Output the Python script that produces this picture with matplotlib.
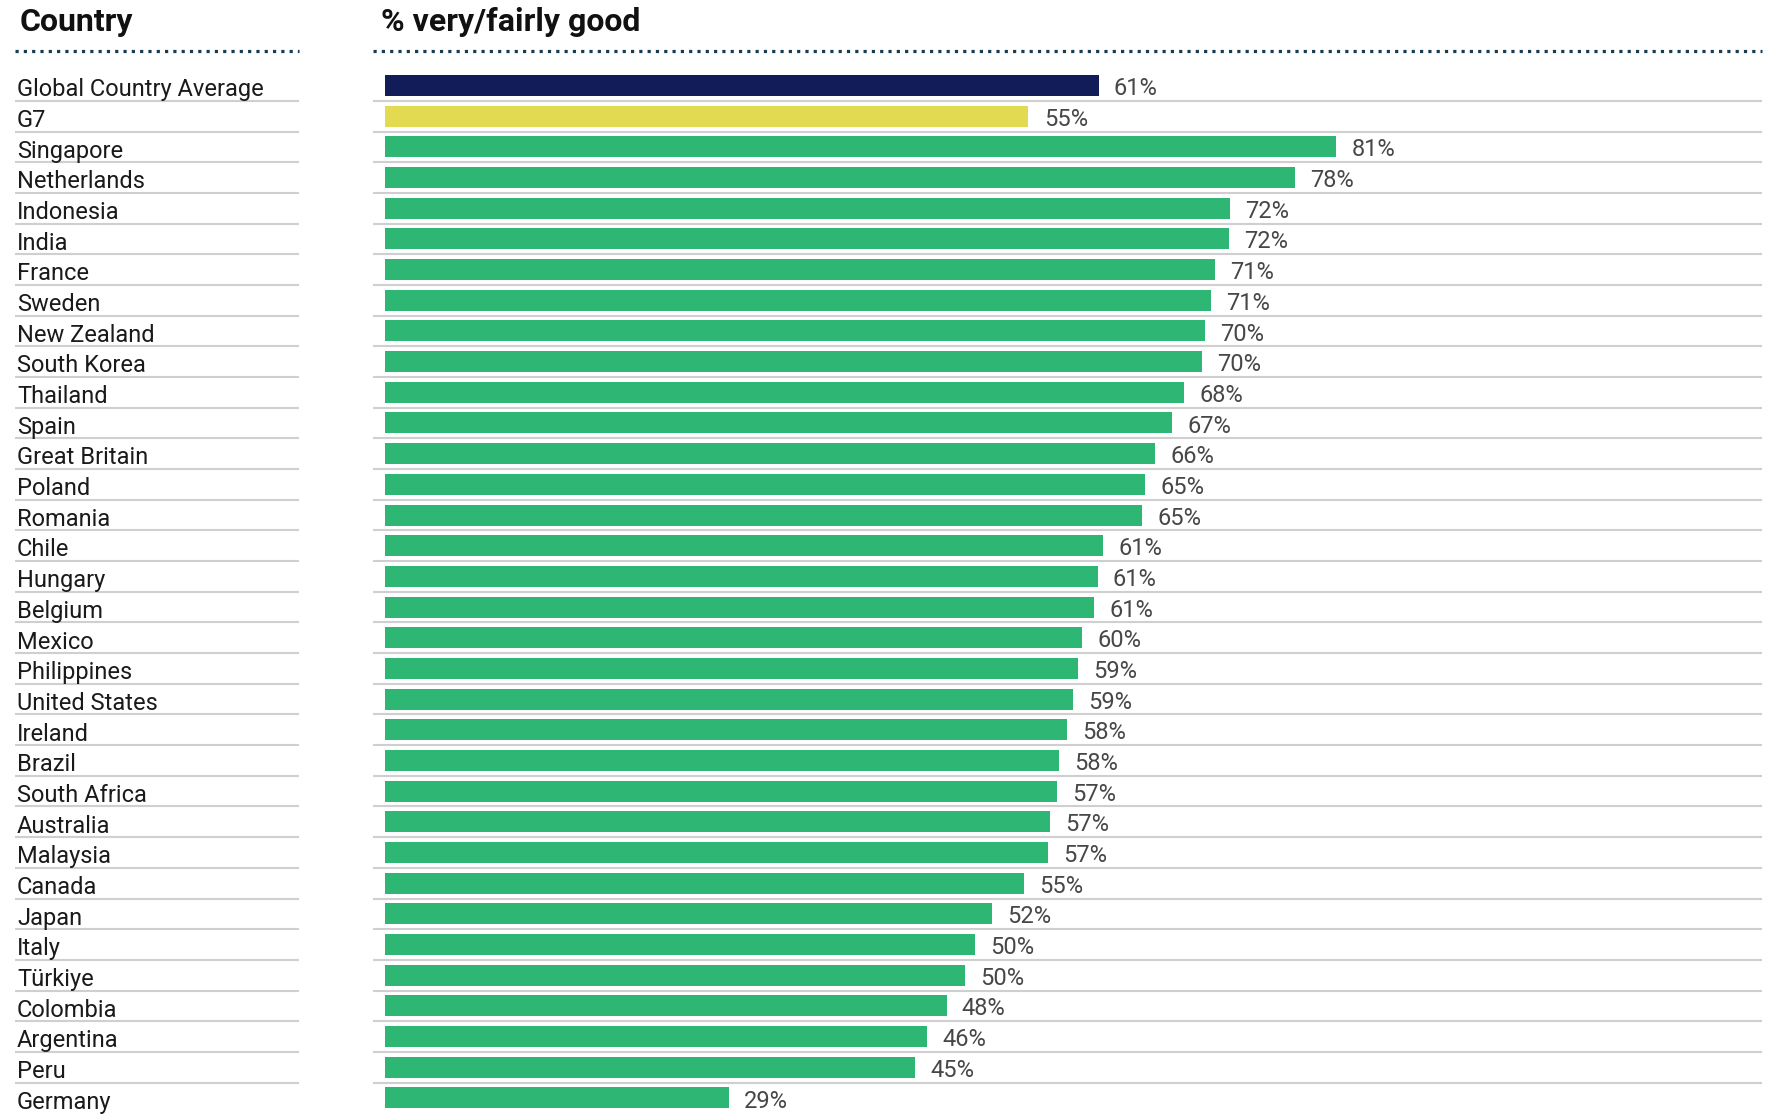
import matplotlib
matplotlib.use("Agg")
import matplotlib.pyplot as plt
from matplotlib.lines import Line2D

countries = [
    "Global Country Average", "G7", "Singapore", "Netherlands", "Indonesia", "India",
    "France", "Sweden", "New Zealand", "South Korea", "Thailand", "Spain",
    "Great Britain", "Poland", "Romania", "Chile", "Hungary", "Belgium", "Mexico",
    "Philippines", "United States", "Ireland", "Brazil", "South Africa", "Australia",
    "Malaysia", "Canada", "Japan", "Italy", "Türkiye", "Colombia", "Argentina",
    "Peru", "Germany",
]
values = [
    61.0, 55.0, 81.3, 77.8, 72.2, 72.1,
    70.9, 70.6, 70.1, 69.8, 68.3, 67.3,
    65.8, 65.0, 64.7, 61.4, 60.9, 60.6, 59.6,
    59.2, 58.8, 58.3, 57.6, 57.4, 56.8,
    56.7, 54.6, 51.9, 50.4, 49.6, 48.0, 46.3,
    45.3, 29.4,
]
value_labels = [
    "61%", "55%", "81%", "78%", "72%", "72%",
    "71%", "71%", "70%", "70%", "68%", "67%",
    "66%", "65%", "65%", "61%", "61%", "61%", "60%",
    "59%", "59%", "58%", "58%", "57%", "57%",
    "57%", "55%", "52%", "50%", "50%", "48%", "46%",
    "45%", "29%",
]

NAVY = "#121c58"
YELLOW = "#e2da50"
GREEN = "#2eb674"
colors = [NAVY, YELLOW] + [GREEN] * (len(countries) - 2)

W, H = 1783, 1116
fig = plt.figure(figsize=(W / 100, H / 100), dpi=100)

font = ["Roboto", "DejaVu Sans"]

# pixel layout
row_h = 30.68
top_center = 85.5
n = len(countries)
ax_top = top_center - 0.5 * row_h
ax_bot = top_center + (n - 0.5) * row_h
x0, x1 = 385, 1762
px_per_pct = 11.70

ax = fig.add_axes([x0 / W, 1 - ax_bot / H, (x1 - x0) / W, (ax_bot - ax_top) / H])
ax.set_xlim(0, (x1 - x0) / px_per_pct)
ax.set_ylim(n - 0.5, -0.5)
ax.axis("off")

ax_l = fig.add_axes([0, 1 - ax_bot / H, 300 / W, (ax_bot - ax_top) / H], sharey=ax)
ax_l.set_xlim(0, 300)
ax_l.axis("off")

ypos = list(range(n))
ax.barh(ypos, values, height=0.685, color=colors, zorder=3)

for i, (v, lab) in enumerate(zip(values, value_labels)):
    ax.annotate(lab, (v, i + 0.1), xytext=(11, 0), textcoords="offset points",
                va="center", ha="left", fontsize=17, color="#474747",
                family=font)

# separator lines (none under last row)
sep_y = [i + 0.5 for i in range(n - 1)]
ax.hlines(sep_y, -12 / px_per_pct, (x1 - x0) / px_per_pct, color="#cfcfcf",
          lw=1.5, clip_on=False, zorder=1)
ax_l.hlines(sep_y, 15, 299, color="#cfcfcf", lw=1.5, clip_on=False)

for i, c in enumerate(countries):
    ax_l.text(17, i + 0.14, c, va="center", ha="left", fontsize=17,
              color="#1a1a1a", family=font)

# headers
fig.text(20 / W, 1 - 22 / H, "Country", fontsize=23, fontweight="bold",
         color="#111111", va="center", ha="left", family=font)
fig.text(381 / W, 1 - 22 / H, "% very/fairly good", fontsize=23, fontweight="bold",
         color="#111111", va="center", ha="left", family=font)

dot_y = 1 - 51 / H
for xa, xb in [(15, 299), (373, 1762)]:
    fig.add_artist(Line2D([xa / W, xb / W], [dot_y, dot_y], color="#173d55",
                          lw=2.3, linestyle=(0, (1.0, 1.6)),
                          dash_capstyle="butt", transform=fig.transFigure))

fig.savefig("out.png", dpi=100, facecolor="white")
